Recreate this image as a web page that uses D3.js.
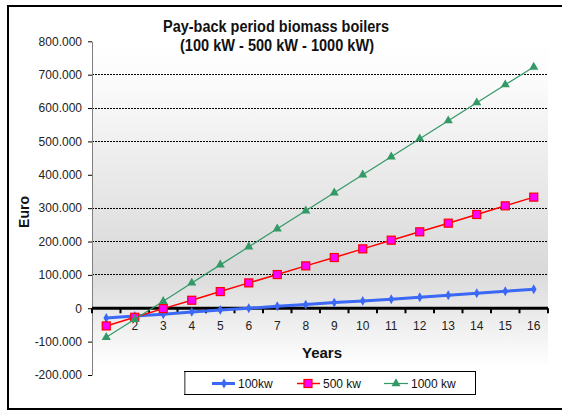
<!DOCTYPE html>
<html><head><meta charset="utf-8">
<script src="https://cdn.jsdelivr.net/npm/d3@7"></script>
<style>body{margin:0;background:#fff}svg{display:block}text{font-family:"Liberation Sans",Arial,sans-serif}</style>
</head><body>
<svg id="c" width="562" height="411"></svg>
<script>
const years = [1,2,3,4,5,6,7,8,9,10,11,12,13,14,15,16];
const s100 = [-29,-23,-18,-11,-5,0,6,11,17,22,27,33,39,45,51,57].map(v=>v*1000);
const s500 = [-53,-27,-1,24,50,76,101,127,152,178,204,229,255,281,307,333].map(v=>v*1000);
const s1000 = [-87,-33,21,76,130,184,238,292,346,400,454,508,562,616,670,723].map(v=>v*1000);
const seriesNames = ["100kw","500 kw","1000 kw"];
const yTicks = [-200000,-100000,0,100000,200000,300000,400000,500000,600000,700000,800000];
const gridVals = [100000,200000,300000,500000,600000,700000];

const svg = d3.select("#c");
const L=92, R=548, T=41.3, B=375;
const x = d3.scaleBand().domain(years).range([L,R]);
const y = d3.scaleLinear().domain([-200000,800000]).range([B,T]);

// frame
svg.append("rect").attr("x",8).attr("y",6).attr("width",570).attr("height",403)
  .attr("fill","none").attr("stroke","#000").attr("stroke-width",2);

// gradient background
const defs = svg.append("defs");
const g = defs.append("linearGradient").attr("id","bg").attr("x1",0).attr("y1",0).attr("x2",0).attr("y2",1);
g.append("stop").attr("offset","0%").attr("stop-color","#ffffff");
g.append("stop").attr("offset","12%").attr("stop-color","#fbfbfb");
g.append("stop").attr("offset","70%").attr("stop-color","#d9d9d9");
g.append("stop").attr("offset","100%").attr("stop-color","#ffffff");
svg.append("rect").attr("x",L).attr("y",T).attr("width",R-L).attr("height",367-T).attr("fill","url(#bg)");

// grid
svg.append("g").selectAll("line").data(gridVals).join("line")
  .attr("x1",L).attr("x2",R).attr("y1",d=>y(d)).attr("y2",d=>y(d))
  .attr("stroke","#000").attr("stroke-width",1).attr("stroke-dasharray","2,1").attr("shape-rendering","crispEdges");

// y axis
const ya = svg.append("g").attr("transform",`translate(${L},0)`)
  .call(d3.axisLeft(y).tickValues(yTicks).tickFormat(d=> d===0?"0":(d<0?"-":"")+d3.format(",.0f")(Math.abs(d)).replace(/,/g,".")).tickSize(4).tickSizeOuter(0));
ya.select(".domain").attr("stroke","#808080");
ya.selectAll(".tick line").attr("stroke","#000");
ya.selectAll(".tick text").attr("font-size",12).attr("fill","#222").attr("x",-10)
  .attr("font-family","'Liberation Sans',Arial,sans-serif");

// x labels
svg.append("g").selectAll("text").data(years).join("text")
  .attr("x",d=>x(d)+x.bandwidth()/2).attr("y",y(0)+22)
  .attr("text-anchor","middle").attr("font-size",12).attr("fill","#222").text(d=>d);

// zero axis
svg.append("line").attr("x1",L).attr("x2",R).attr("y1",y(0)).attr("y2",y(0)).attr("stroke","#000").attr("stroke-width",3);
svg.append("g").selectAll("line").data(d3.range(0,17)).join("line")
  .attr("x1",i=>L+i*x.bandwidth()).attr("x2",i=>L+i*x.bandwidth())
  .attr("y1",y(0)).attr("y2",y(0)+5).attr("stroke","#000").attr("stroke-width",2);

// series
const cx = d=>x(d)+x.bandwidth()/2;
function line(vals){ return d3.line().x((v,i)=>cx(years[i])).y(v=>y(v))(vals); }

// 100kw
svg.append("path").attr("d",line(s100)).attr("fill","none").attr("stroke","#3b68f5").attr("stroke-width",3);
svg.append("g").selectAll("path").data(s100).join("path")
  .attr("transform",(v,i)=>`translate(${cx(years[i])},${y(v)})`)
  .attr("d",d3.symbol(d3.symbolDiamond,28)).attr("fill","#3b68f5");
// 500kw
svg.append("path").attr("d",line(s500)).attr("fill","none").attr("stroke","#ff0000").attr("stroke-width",1.5);
svg.append("g").selectAll("rect").data(s500).join("rect")
  .attr("x",(v,i)=>cx(years[i])-4).attr("y",v=>y(v)-4).attr("width",8).attr("height",8)
  .attr("fill","#ff00ff").attr("stroke","#ff0000").attr("stroke-width",1.2);
// 1000kw
svg.append("path").attr("d",line(s1000)).attr("fill","none").attr("stroke","#339966").attr("stroke-width",1.2);
svg.append("g").selectAll("path").data(s1000).join("path")
  .attr("transform",(v,i)=>`translate(${cx(years[i])},${y(v)})`)
  .attr("d",d3.symbol(d3.symbolTriangle,36)).attr("fill","#339966");

// titles
svg.append("text").attr("x",276).attr("y",32).attr("text-anchor","middle").attr("font-size",16).attr("font-weight","bold").attr("fill","#111")
  .attr("textLength",226).attr("lengthAdjust","spacingAndGlyphs").text("Pay-back period biomass boilers");
svg.append("text").attr("x",277).attr("y",51).attr("text-anchor","middle").attr("font-size",16).attr("font-weight","bold").attr("fill","#111")
  .attr("textLength",194).attr("lengthAdjust","spacingAndGlyphs").text("(100 kW - 500 kW - 1000 kW)");
svg.append("text").attr("transform","translate(29,212) rotate(-90)").attr("text-anchor","middle").attr("font-size",14).attr("font-weight","bold").attr("fill","#111").text("Euro");
svg.append("text").attr("x",322).attr("y",358).attr("text-anchor","middle").attr("font-size",15).attr("font-weight","bold").attr("fill","#111").text("Years");

// legend
const lg = svg.append("g");
lg.append("rect").attr("x",184.5).attr("y",371.5).attr("width",291).attr("height",23).attr("fill","#fff").attr("stroke","#000").attr("stroke-width",1);
lg.append("line").attr("x1",185).attr("x2",185).attr("y1",372).attr("y2",394).attr("stroke","#999").attr("stroke-width",1.5);
const ly = 383.5;
lg.append("line").attr("x1",212).attr("x2",235).attr("y1",ly).attr("y2",ly).attr("stroke","#3b68f5").attr("stroke-width",3);
lg.append("path").attr("transform",`translate(224,${ly})`).attr("d",d3.symbol(d3.symbolDiamond,28)).attr("fill","#3b68f5");
lg.append("line").attr("x1",297).attr("x2",320).attr("y1",ly).attr("y2",ly).attr("stroke","#ff0000").attr("stroke-width",1.5);
lg.append("rect").attr("x",304).attr("y",ly-4).attr("width",8).attr("height",8).attr("fill","#ff00ff").attr("stroke","#ff0000").attr("stroke-width",1.2);
lg.append("line").attr("x1",384).attr("x2",408).attr("y1",ly).attr("y2",ly).attr("stroke","#339966").attr("stroke-width",1.2);
lg.append("path").attr("transform",`translate(396,${ly})`).attr("d",d3.symbol(d3.symbolTriangle,36)).attr("fill","#339966");
const lx = [238,323,411];
lg.selectAll("text.l").data(seriesNames).join("text").attr("class","l")
  .attr("x",(d,i)=>lx[i]).attr("y",ly+4.5).attr("font-size",12).attr("fill","#111").text(d=>d);
</script>
</body></html>
